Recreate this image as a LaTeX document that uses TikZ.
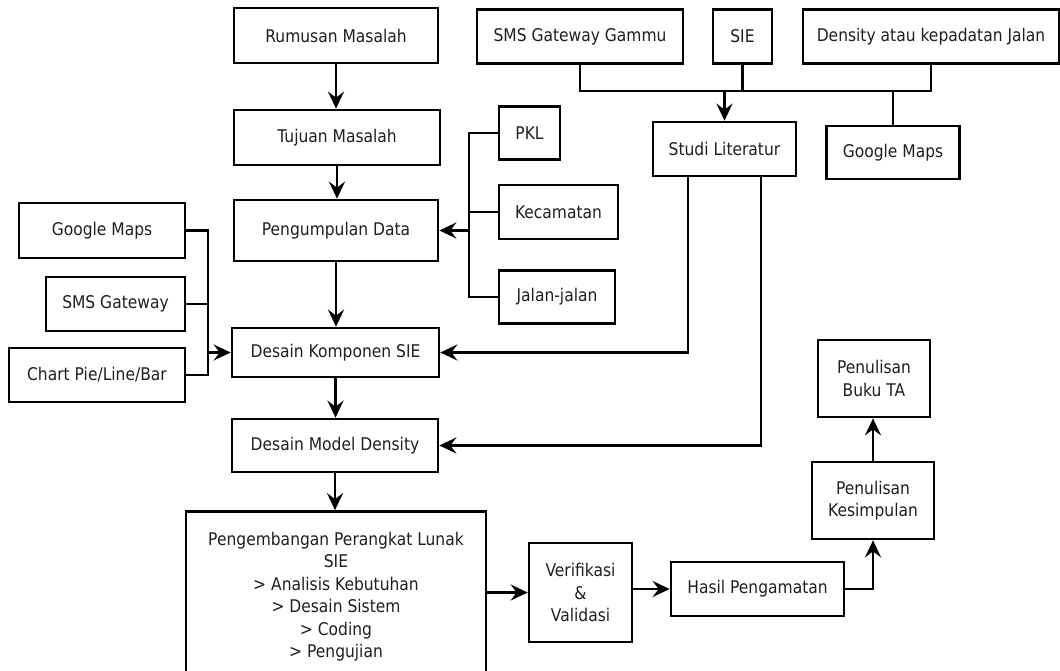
\documentclass[tikz,border=0pt]{standalone}
\usepackage{fontspec}
\setmainfont{DejaVu Sans}[FakeStretch=0.886]
\usetikzlibrary{arrows.meta}
\begin{document}
\begin{tikzpicture}[x=1pt,y=-1pt,
  box/.style={draw=black, line width=2.7pt, inner sep=0pt, align=center,
    text=black!88, font=\fontsize{17.5}{22.5}\selectfont},
  conn/.style={line width=2.7pt},
  arr/.style={line width=2.7pt, -{Stealth[length=17pt,width=16pt,inset=6pt]}}]
\useasboundingbox (0,0) rectangle (1060,671);
\fill[white] (0,0) rectangle (1060,671);
\clip (0,0) rectangle (1060,671);
% nodes
\node[box, minimum width=204pt, minimum height=55pt] (rumusan) at (336,35.5) {Rumusan Masalah};
\node[box, minimum width=206pt, minimum height=55pt] (tujuan) at (337,137.5) {Tujuan Masalah};
\node[box, minimum width=204pt, minimum height=61pt] (pengumpulan) at (336,230.5) {Pengumpulan Data};
\node[box, minimum width=166pt, minimum height=55pt] (gmL) at (102,230.5) {Google Maps};
\node[box, minimum width=139pt, minimum height=54pt] (smsgw) at (115.5,304) {SMS Gateway};
\node[box, minimum width=176pt, minimum height=54pt] (chart) at (97,375) {Chart Pie/Line/Bar};
\node[box, minimum width=207pt, minimum height=49pt] (komponen) at (335.5,352.5) {Desain Komponen SIE};
\node[box, minimum width=206pt, minimum height=53pt] (model) at (335,445.5) {Desain Model Density};
\node[box, minimum width=300pt, minimum height=170pt] (peng) at (336,596.5) {Pengembangan Perangkat Lunak\\SIE\\{>} Analisis Kebutuhan\\{>} Desain Sistem\\{>} Coding\\{>} Pengujian};
\node[box, minimum width=61pt, minimum height=53pt] (pkl) at (529.5,133) {PKL};
\node[box, minimum width=119pt, minimum height=54pt] (kec) at (558.5,212) {Kecamatan};
\node[box, minimum width=116pt, minimum height=53pt] (jalan) at (557,297) {Jalan-jalan};
\node[box, minimum width=206pt, minimum height=54pt] (gammu) at (580,36.5) {SMS Gateway Gammu};
\node[box, minimum width=59pt, minimum height=54pt] (sie) at (742.5,36.5) {SIE};
\node[box, minimum width=256pt, minimum height=54pt] (density) at (931,36.5) {Density atau kepadatan Jalan};
\node[box, minimum width=143pt, minimum height=54pt] (studi) at (724.5,149) {Studi Literatur};
\node[box, minimum width=132.5pt, minimum height=53pt] (gmR) at (893,152.5) {Google Maps};
\node[box, minimum width=112pt, minimum height=77pt] (buku) at (874,378.5) {Penulisan\\Buku TA};
\node[box, minimum width=122pt, minimum height=77pt] (kesim) at (873,500.5) {Penulisan\\Kesimpulan};
\node[box, minimum width=103pt, minimum height=99pt] (verif) at (580.5,592.5) {Verifikasi\\\&\\Validasi};
\node[box, minimum width=173pt, minimum height=54pt] (hasil) at (757.5,589) {Hasil Pengamatan};
% bus coordinates
\coordinate (bL) at (208,0);
\coordinate (bR) at (469,0);
\coordinate (bT) at (0,91);
\coordinate (s1) at (688,0);
\coordinate (s2) at (761,0);
% main chain
\draw[arr] (rumusan.south) -- (rumusan.south |- tujuan.north);
\draw[arr] (tujuan.south) -- (tujuan.south |- pengumpulan.north);
\draw[arr] (pengumpulan.south) -- (pengumpulan.south |- komponen.north);
\draw[arr] (komponen.south) -- (komponen.south |- model.north);
\draw[arr] (model.south) -- (model.south |- peng.north);
% right bus to Pengumpulan
\draw[conn] (pkl.west) -- (pkl.west -| bR) -- (jalan.west -| bR) -- (jalan.west);
\draw[conn] (kec.west) -- (kec.west -| bR);
\draw[arr] (pengumpulan.east -| bR) -- (pengumpulan.east);
% left bus to Komponen
\draw[conn] (gmL.east) -- (gmL.east -| bL) -- (chart.east -| bL) -- (chart.east);
\draw[conn] (smsgw.east) -- (smsgw.east -| bL);
\draw[arr] (komponen.west -| bL) -- (komponen.west);
% top bus to Studi
\draw[conn] (gammu.south) -- (gammu.south |- bT) -- (bT -| density.south) -- (density.south);
\draw[conn] (sie.south) -- (sie.south |- bT);
\draw[conn] (gmR.north) -- (gmR.north |- bT);
\draw[arr] (studi.north |- bT) -- (studi.north);
% Studi to designs
\draw[arr] (studi.south -| s1) |- (komponen.east);
\draw[arr] (studi.south -| s2) |- (model.east);
% bottom chain
\draw[arr] (peng.east |- verif.west) -- (verif.west);
\draw[arr] (verif.east |- hasil.west) -- (hasil.west);
\draw[arr] (hasil.east) -| (kesim.south);
\draw[arr] (kesim.north) -- (kesim.north |- buku.south);
\end{tikzpicture}
\end{document}
